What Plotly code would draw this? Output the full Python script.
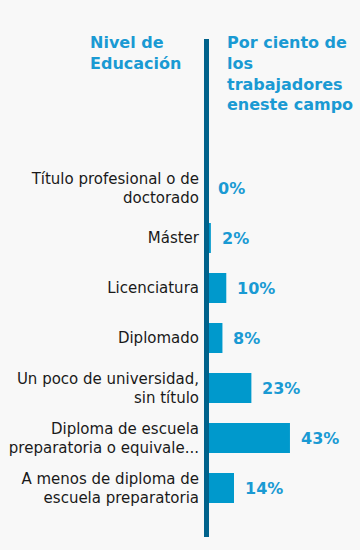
import plotly.graph_objects as go

categories = [
    "Título profesional o de<br>doctorado",
    "Máster",
    "Licenciatura",
    "Diplomado",
    "Un poco de universidad,<br>sin título",
    "Diploma de escuela<br>preparatoria o equivale...",
    "A menos de diploma de<br>escuela preparatoria",
]
values = [0, 2, 10, 8, 23, 43, 14]
value_labels = ["0%", "2%", "10%", "8%", "23%", "43%", "14%"]
header_left = "Nivel de<br>Educación"
header_right = "Por ciento de<br>los<br>trabajadores<br>eneste campo"

BAR = "#0099cc"
TXT = "#1a9ad3"
AXIS = "#00628b"
BG = "#f8f8f8"

W, H = 360, 550
ML, MR, MT, MB = 207, 0, 39, 13

ph = H - MT - MB
pw = W - ML - MR
def px_to_paper_y(py):
    return (H - MB - py) / ph
def px_to_paper_x(px):
    return (px - ML) / pw

fig = go.Figure()
fig.add_trace(go.Bar(
    x=values, y=categories, orientation="h",
    marker=dict(color=BAR, line=dict(width=0)),
    width=0.6, hoverinfo="skip",
))

for c, v, t in zip(categories, values, value_labels):
    fig.add_annotation(
        x=v, y=c, xref="x", yref="y", text=t, showarrow=False,
        xanchor="left", yanchor="middle", xshift=9,
        font=dict(family="DejaVu Sans", size=16, color=TXT, weight="bold"),
    )

# vertical axis bar (paper ref so it is not clipped by the plot area)
xl = px_to_paper_x(206.5)
fig.add_shape(type="line", xref="paper", yref="paper", x0=xl, x1=xl, y0=0, y1=1,
              line=dict(color=AXIS, width=5), layer="above")

fig.add_annotation(
    x=px_to_paper_x(88), y=px_to_paper_y(31), xref="paper", yref="paper",
    text=header_left, showarrow=False, xanchor="left", yanchor="top", align="left",
    font=dict(family="DejaVu Sans", size=16, color=TXT, weight="bold"),
)
fig.add_annotation(
    x=px_to_paper_x(225), y=px_to_paper_y(31), xref="paper", yref="paper",
    text=header_right, showarrow=False, xanchor="left", yanchor="top", align="left",
    font=dict(family="DejaVu Sans", size=16, color=TXT, weight="bold"),
)

fig.update_layout(
    width=W, height=H,
    margin=dict(l=ML, r=MR, t=MT, b=MB),
    paper_bgcolor=BG, plot_bgcolor=BG,
    showlegend=False,
    font=dict(family="DejaVu Sans", size=15, color="#1a1a1a"),
    xaxis=dict(range=[0, 79.3], visible=False, fixedrange=True),
    yaxis=dict(
        type="category", range=[6.98, -2.98], showgrid=False, zeroline=False,
        showline=False, ticks="", ticklabelstandoff=7,
        tickfont=dict(family="DejaVu Sans", size=15, color="#1a1a1a"),
        fixedrange=True,
    ),
)

fig.write_html(
    "out.html",
    config={"displayModeBar": False, "staticPlot": True},
    post_script="document.body.style.margin='0';document.body.style.background='%s';" % BG,
)
